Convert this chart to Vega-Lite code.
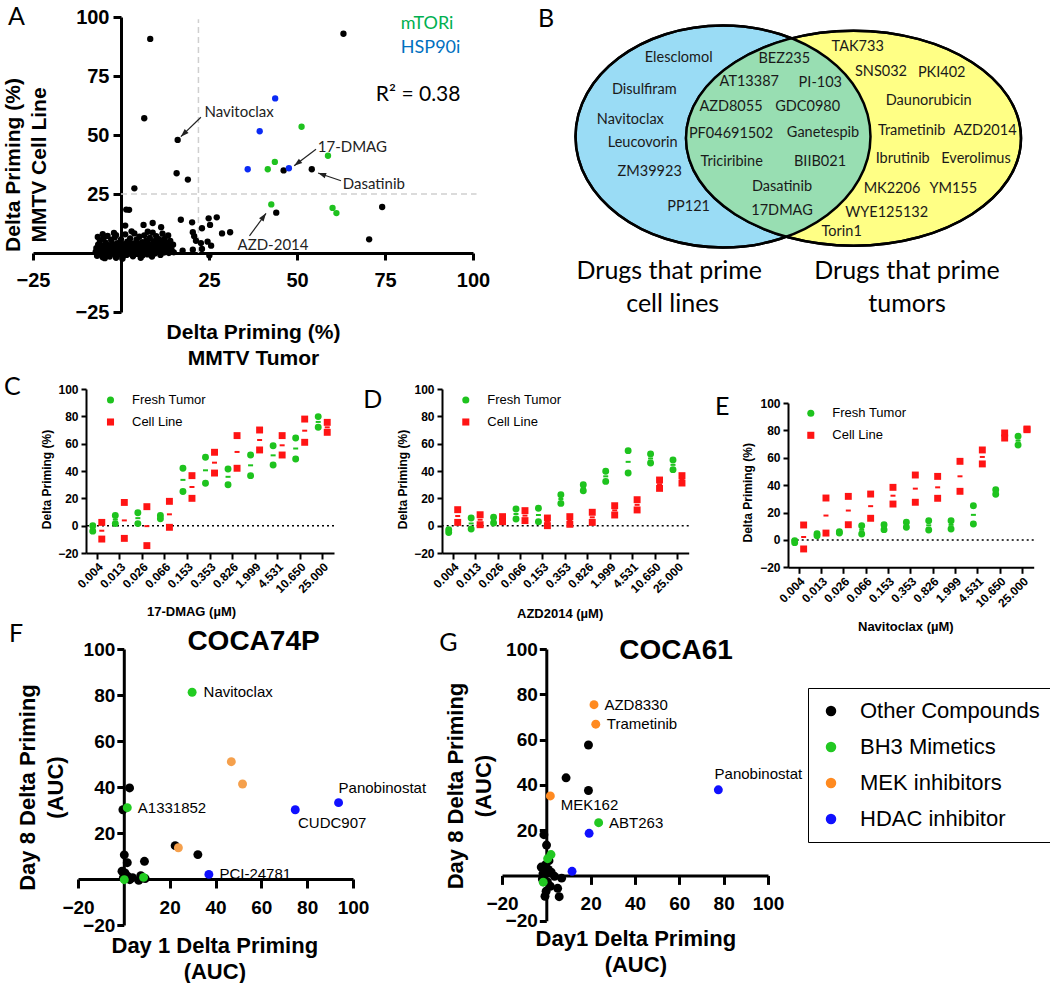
{
"$schema": "https://vega.github.io/schema/vega-lite/v6.json",
"background": "white",
"padding": {"left": 2, "top": 5, "right": 0, "bottom": 0},
"datasets": {
"dA": [
{"x":8.3,"y":90.7,"g":"o"},{"x":63.2,"y":92.9,"g":"o"},{"x":6.6,"y":57.1,"g":"o"},{"x":16.1,"y":47.9,"g":"o"},{"x":15.8,"y":33.8,"g":"o"},{"x":19.0,"y":31.1,"g":"o"},{"x":3.8,"y":27.4,"g":"o"},{"x":46.2,"y":35.0,"g":"o"},{"x":54.2,"y":35.5,"g":"o"},{"x":44.1,"y":17.1,"g":"o"},{"x":74.2,"y":19.5,"g":"o"},{"x":70.5,"y":5.8,"g":"o"},{"x":1.5,"y":18.4,"g":"o"},{"x":2.3,"y":18.3,"g":"o"},{"x":1.2,"y":11.6,"g":"o"},{"x":6.4,"y":11.9,"g":"o"},{"x":9,"y":12.7,"g":"o"},{"x":11.4,"y":10.9,"g":"o"},{"x":7.6,"y":9,"g":"o"},{"x":-5.2,"y":8,"g":"o"},{"x":-1.4,"y":7.6,"g":"o"},{"x":17,"y":14.1,"g":"o"},{"x":20.2,"y":13,"g":"o"},{"x":23,"y":10.5,"g":"o"},{"x":24.9,"y":14.7,"g":"o"},{"x":27.2,"y":15.1,"g":"o"},{"x":25.3,"y":11.9,"g":"o"},{"x":28.7,"y":8.3,"g":"o"},{"x":31,"y":8.8,"g":"o"},{"x":20.4,"y":8.8,"g":"o"},{"x":20.8,"y":7.1,"g":"o"},{"x":21.3,"y":5.2,"g":"o"},{"x":22.7,"y":4.2,"g":"o"},{"x":24.6,"y":4.8,"g":"o"},{"x":25.6,"y":3.1,"g":"o"},{"x":23,"y":1.7,"g":"o"},{"x":17.5,"y":1,"g":"o"},{"x":20.4,"y":1.4,"g":"o"},{"x":15,"y":0.3,"g":"o"},{"x":25.1,"y":-1.1,"g":"o"},
{"x":-7.2,"y":0.5,"g":"o"},{"x":-7,"y":2.1,"g":"o"},{"x":-6.8,"y":-1.2,"g":"o"},{"x":-6.5,"y":3.5,"g":"o"},{"x":-6.3,"y":0.8,"g":"o"},{"x":-6,"y":5.2,"g":"o"},{"x":-5.8,"y":-0.5,"g":"o"},{"x":-5.6,"y":1.9,"g":"o"},{"x":-5.4,"y":3,"g":"o"},{"x":-5.2,"y":-1.8,"g":"o"},{"x":-5,"y":6.1,"g":"o"},{"x":-4.8,"y":0.2,"g":"o"},{"x":-4.6,"y":2.6,"g":"o"},{"x":-4.4,"y":4.4,"g":"o"},{"x":-4.2,"y":-0.9,"g":"o"},{"x":-4,"y":1.4,"g":"o"},{"x":-3.8,"y":7.2,"g":"o"},{"x":-3.6,"y":3.3,"g":"o"},{"x":-3.4,"y":0.1,"g":"o"},{"x":-3.2,"y":-1.5,"g":"o"},{"x":-3,"y":2.2,"g":"o"},{"x":-2.8,"y":5.5,"g":"o"},{"x":-2.6,"y":0.9,"g":"o"},{"x":-2.4,"y":3.9,"g":"o"},{"x":-2.2,"y":-0.3,"g":"o"},{"x":-2,"y":1.6,"g":"o"},{"x":-1.8,"y":6.6,"g":"o"},{"x":-1.6,"y":2.8,"g":"o"},{"x":-1.4,"y":-1.1,"g":"o"},{"x":-1.2,"y":0.6,"g":"o"},{"x":-1,"y":4.2,"g":"o"},{"x":-0.8,"y":1.9,"g":"o"},{"x":-0.6,"y":-0.6,"g":"o"},{"x":-0.4,"y":3.1,"g":"o"},{"x":-0.2,"y":0.3,"g":"o"},{"x":0,"y":5.8,"g":"o"},{"x":0.2,"y":2.4,"g":"o"},{"x":0.4,"y":-1.9,"g":"o"},{"x":0.6,"y":1.1,"g":"o"},{"x":0.8,"y":3.7,"g":"o"},{"x":1,"y":0.2,"g":"o"},{"x":1.2,"y":7.9,"g":"o"},{"x":1.4,"y":2,"g":"o"},{"x":1.6,"y":-0.8,"g":"o"},{"x":1.8,"y":4.8,"g":"o"},{"x":2,"y":1.3,"g":"o"},{"x":2.2,"y":3,"g":"o"},{"x":2.4,"y":-0.2,"g":"o"},{"x":2.6,"y":6.2,"g":"o"},{"x":2.8,"y":1.7,"g":"o"},{"x":3,"y":0.4,"g":"o"},{"x":3.2,"y":4.1,"g":"o"},{"x":3.4,"y":-1.4,"g":"o"},{"x":3.6,"y":2.5,"g":"o"},{"x":3.8,"y":8.3,"g":"o"},{"x":4,"y":0.9,"g":"o"},{"x":4.2,"y":3.4,"g":"o"},{"x":4.4,"y":5.6,"g":"o"},{"x":4.6,"y":-0.4,"g":"o"},{"x":4.8,"y":2.2,"g":"o"},{"x":5,"y":1,"g":"o"},{"x":5.2,"y":6.9,"g":"o"},{"x":5.4,"y":3.8,"g":"o"},{"x":5.6,"y":0.1,"g":"o"},{"x":5.8,"y":2.7,"g":"o"},{"x":6,"y":4.6,"g":"o"},{"x":6.2,"y":-1,"g":"o"},{"x":6.4,"y":1.5,"g":"o"},{"x":6.6,"y":7.5,"g":"o"},{"x":6.8,"y":3.2,"g":"o"},{"x":7,"y":0.6,"g":"o"},{"x":7.2,"y":5.3,"g":"o"},{"x":7.4,"y":2,"g":"o"},{"x":7.6,"y":-0.6,"g":"o"},{"x":7.8,"y":4,"g":"o"},{"x":8,"y":1.2,"g":"o"},{"x":8.2,"y":6.4,"g":"o"},{"x":8.4,"y":2.9,"g":"o"},{"x":8.6,"y":0.3,"g":"o"},{"x":8.8,"y":3.6,"g":"o"},{"x":9,"y":8.6,"g":"o"},{"x":9.2,"y":1.8,"g":"o"},{"x":9.4,"y":5,"g":"o"},{"x":9.6,"y":-0.2,"g":"o"},{"x":9.8,"y":2.4,"g":"o"},{"x":10,"y":7.1,"g":"o"},{"x":10.2,"y":1,"g":"o"},{"x":10.4,"y":3.9,"g":"o"},{"x":10.6,"y":0.5,"g":"o"},{"x":10.8,"y":5.9,"g":"o"},{"x":11,"y":2.6,"g":"o"},{"x":11.2,"y":-0.8,"g":"o"},{"x":11.4,"y":4.5,"g":"o"},{"x":11.6,"y":1.5,"g":"o"},{"x":11.8,"y":8.2,"g":"o"},{"x":12,"y":3.2,"g":"o"},{"x":12.2,"y":0.2,"g":"o"},{"x":12.4,"y":6,"g":"o"},{"x":12.6,"y":2.1,"g":"o"},{"x":12.8,"y":0.8,"g":"o"},{"x":13,"y":4.3,"g":"o"},{"x":13.2,"y":1.6,"g":"o"},{"x":13.4,"y":7.4,"g":"o"},{"x":13.6,"y":0,"g":"o"},{"x":13.8,"y":2.9,"g":"o"},{"x":14,"y":5.1,"g":"o"},{"x":14.4,"y":1.2,"g":"o"},{"x":14.8,"y":3.5,"g":"o"},{"x":-6.6,"y":6.8,"g":"o"},{"x":-2,"y":8.5,"g":"o"},{"x":3,"y":9.2,"g":"o"},{"x":-4.6,"y":-2.2,"g":"o"},{"x":0.4,"y":-2.4,"g":"o"},{"x":5.6,"y":-2,"g":"o"},{"x":-1.4,"y":-2,"g":"o"},{"x":8.8,"y":-1.5,"g":"o"},
{"x":51.3,"y":53.5,"g":"m"},{"x":58.8,"y":41.2,"g":"m"},{"x":43.7,"y":38.6,"g":"m"},{"x":41.7,"y":35.5,"g":"m"},{"x":42.7,"y":20.6,"g":"m"},{"x":60.1,"y":19.1,"g":"m"},{"x":61.2,"y":16.9,"g":"m"},
{"x":43.8,"y":65.5,"g":"h"},{"x":39.4,"y":51.6,"g":"h"},{"x":36.0,"y":35.5,"g":"h"},{"x":47.7,"y":35.9,"g":"h"}
],
"arrows": [
{"t":"Navitoclax","x":17,"y":49.3,"x2":22.7,"y2":57.5},
{"t":"17-DMAG","x":49.2,"y":37,"x2":55.4,"y2":44},
{"t":"Dasatinib","x":56,"y":33.9,"x2":62.5,"y2":30.6},
{"t":"AZD-2014","x":41.2,"y":16.8,"x2":36.5,"y2":7.3}
],
"annA": [
{"x":23.7,"y":59.9,"t":"Navitoclax"},{"x":55.9,"y":45,"t":"17-DMAG"},{"x":63,"y":29.2,"t":"Dasatinib"},{"x":33.1,"y":3.4,"t":"AZD-2014"}
],
"bT": [
{"x":677.7,"y":59.3,"t":"Elesclomol"},{"x":643.3,"y":91,"t":"Disulfiram"},{"x":629.3,"y":120.7,"t":"Navitoclax"},{"x":641.7,"y":144,"t":"Leucovorin"},{"x":648.7,"y":173.3,"t":"ZM39923"},{"x":687.7,"y":208.3,"t":"PP121"},
{"x":783.3,"y":60,"t":"BEZ235"},{"x":748.3,"y":82.7,"t":"AT13387"},{"x":819.3,"y":84.3,"t":"PI-103"},{"x":730,"y":108.3,"t":"AZD8055"},{"x":806.7,"y":108.3,"t":"GDC0980"},{"x":730,"y":135,"t":"PF04691502"},{"x":822,"y":134.3,"t":"Ganetespib"},{"x":730.7,"y":162.7,"t":"Triciribine"},{"x":819,"y":163.3,"t":"BIIB021"},{"x":781,"y":188.3,"t":"Dasatinib"},{"x":781,"y":212.3,"t":"17DMAG"},
{"x":856.7,"y":48.3,"t":"TAK733"},{"x":880,"y":73.3,"t":"SNS032"},{"x":940.7,"y":74,"t":"PKI402"},{"x":927.7,"y":101.7,"t":"Daunorubicin"},{"x":910.7,"y":131.7,"t":"Trametinib"},{"x":984,"y":131.7,"t":"AZD2014"},{"x":901.7,"y":160,"t":"Ibrutinib"},{"x":975,"y":160,"t":"Everolimus"},{"x":891,"y":190,"t":"MK2206"},{"x":952.3,"y":190,"t":"YM155"},{"x":885.7,"y":214,"t":"WYE125132"},{"x":840.7,"y":233.3,"t":"Torin1"}
],
"bC": [
{"x":668.3,"y":271.7,"t":"Drugs that prime"},{"x":671.7,"y":305,"t":"cell lines"},{"x":906,"y":271.7,"t":"Drugs that prime"},{"x":906,"y":305,"t":"tumors"}
],
"dC": [
{"c":"0.004","s":"Fresh Tumor","v":0},{"c":"0.004","s":"Fresh Tumor","v":-4},{"c":"0.004","s":"Cell Line","v":2.4},{"c":"0.004","s":"Cell Line","v":-9.8},
{"c":"0.013","s":"Fresh Tumor","v":7.5},{"c":"0.013","s":"Fresh Tumor","v":1.5},{"c":"0.013","s":"Cell Line","v":17},{"c":"0.013","s":"Cell Line","v":-9.3},
{"c":"0.026","s":"Fresh Tumor","v":9.5},{"c":"0.026","s":"Fresh Tumor","v":1.5},{"c":"0.026","s":"Cell Line","v":13.9},{"c":"0.026","s":"Cell Line","v":-14.6},
{"c":"0.066","s":"Fresh Tumor","v":7.5},{"c":"0.066","s":"Fresh Tumor","v":5},{"c":"0.066","s":"Cell Line","v":17.8},{"c":"0.066","s":"Cell Line","v":-1.2},
{"c":"0.153","s":"Fresh Tumor","v":42},{"c":"0.153","s":"Fresh Tumor","v":25},{"c":"0.153","s":"Cell Line","v":36.6},{"c":"0.153","s":"Cell Line","v":20},
{"c":"0.353","s":"Fresh Tumor","v":50},{"c":"0.353","s":"Fresh Tumor","v":31},{"c":"0.353","s":"Cell Line","v":53.7},{"c":"0.353","s":"Cell Line","v":38.5},
{"c":"0.826","s":"Fresh Tumor","v":41.5},{"c":"0.826","s":"Fresh Tumor","v":30},{"c":"0.826","s":"Cell Line","v":65.9},{"c":"0.826","s":"Cell Line","v":42},
{"c":"1.999","s":"Fresh Tumor","v":51.7},{"c":"1.999","s":"Fresh Tumor","v":36.6},{"c":"1.999","s":"Cell Line","v":70},{"c":"1.999","s":"Cell Line","v":55.4},
{"c":"4.531","s":"Fresh Tumor","v":58.5},{"c":"4.531","s":"Fresh Tumor","v":44.4},{"c":"4.531","s":"Cell Line","v":65.9},{"c":"4.531","s":"Cell Line","v":51.7},
{"c":"10.650","s":"Fresh Tumor","v":64.1},{"c":"10.650","s":"Fresh Tumor","v":48.8},{"c":"10.650","s":"Cell Line","v":78},{"c":"10.650","s":"Cell Line","v":61},
{"c":"25.000","s":"Fresh Tumor","v":79.8},{"c":"25.000","s":"Fresh Tumor","v":72},{"c":"25.000","s":"Cell Line","v":75.6},{"c":"25.000","s":"Cell Line","v":68.3}
],
"dD": [
{"c":"0.004","s":"Fresh Tumor","v":-3},{"c":"0.004","s":"Fresh Tumor","v":-5},{"c":"0.004","s":"Cell Line","v":11.7},{"c":"0.004","s":"Cell Line","v":2.4},
{"c":"0.013","s":"Fresh Tumor","v":5.6},{"c":"0.013","s":"Fresh Tumor","v":-2.4},{"c":"0.013","s":"Cell Line","v":8},{"c":"0.013","s":"Cell Line","v":0.7},
{"c":"0.026","s":"Fresh Tumor","v":6.1},{"c":"0.026","s":"Fresh Tumor","v":2},{"c":"0.026","s":"Cell Line","v":6.6},{"c":"0.026","s":"Cell Line","v":2.9},
{"c":"0.066","s":"Fresh Tumor","v":12.2},{"c":"0.066","s":"Fresh Tumor","v":4.9},{"c":"0.066","s":"Cell Line","v":11},{"c":"0.066","s":"Cell Line","v":3.7},
{"c":"0.153","s":"Fresh Tumor","v":12.7},{"c":"0.153","s":"Fresh Tumor","v":2.9},{"c":"0.153","s":"Cell Line","v":5.6},{"c":"0.153","s":"Cell Line","v":0},
{"c":"0.353","s":"Fresh Tumor","v":22.7},{"c":"0.353","s":"Fresh Tumor","v":16.3},{"c":"0.353","s":"Cell Line","v":6.6},{"c":"0.353","s":"Cell Line","v":1},
{"c":"0.826","s":"Fresh Tumor","v":30},{"c":"0.826","s":"Fresh Tumor","v":25.6},{"c":"0.826","s":"Cell Line","v":9.8},{"c":"0.826","s":"Cell Line","v":2.4},
{"c":"1.999","s":"Fresh Tumor","v":39.8},{"c":"1.999","s":"Fresh Tumor","v":32.4},{"c":"1.999","s":"Cell Line","v":14.6},{"c":"1.999","s":"Cell Line","v":7.8},
{"c":"4.531","s":"Fresh Tumor","v":54.9},{"c":"4.531","s":"Fresh Tumor","v":38.5},{"c":"4.531","s":"Cell Line","v":19},{"c":"4.531","s":"Cell Line","v":11.5},
{"c":"10.650","s":"Fresh Tumor","v":52.4},{"c":"10.650","s":"Fresh Tumor","v":45.9},{"c":"10.650","s":"Cell Line","v":33.4},{"c":"10.650","s":"Cell Line","v":27.3},
{"c":"25.000","s":"Fresh Tumor","v":48},{"c":"25.000","s":"Fresh Tumor","v":41},{"c":"25.000","s":"Cell Line","v":36.6},{"c":"25.000","s":"Cell Line","v":31.2}
],
"dE": [
{"c":"0.004","s":"Fresh Tumor","v":-0.5},{"c":"0.004","s":"Fresh Tumor","v":-2},{"c":"0.004","s":"Cell Line","v":10.9},{"c":"0.004","s":"Cell Line","v":-6.6},
{"c":"0.013","s":"Fresh Tumor","v":4.5},{"c":"0.013","s":"Fresh Tumor","v":3},{"c":"0.013","s":"Cell Line","v":30.6},{"c":"0.013","s":"Cell Line","v":5},
{"c":"0.026","s":"Fresh Tumor","v":6},{"c":"0.026","s":"Fresh Tumor","v":5},{"c":"0.026","s":"Cell Line","v":31.8},{"c":"0.026","s":"Cell Line","v":11.1},
{"c":"0.066","s":"Fresh Tumor","v":10.4},{"c":"0.066","s":"Fresh Tumor","v":4.3},{"c":"0.066","s":"Cell Line","v":33.5},{"c":"0.066","s":"Cell Line","v":15.8},
{"c":"0.153","s":"Fresh Tumor","v":11.1},{"c":"0.153","s":"Fresh Tumor","v":7.5},{"c":"0.153","s":"Cell Line","v":38.4},{"c":"0.153","s":"Cell Line","v":26.2},
{"c":"0.353","s":"Fresh Tumor","v":12.9},{"c":"0.353","s":"Fresh Tumor","v":9.2},{"c":"0.353","s":"Cell Line","v":47.4},{"c":"0.353","s":"Cell Line","v":27.5},
{"c":"0.826","s":"Fresh Tumor","v":14},{"c":"0.826","s":"Fresh Tumor","v":7.3},{"c":"0.826","s":"Cell Line","v":46.4},{"c":"0.826","s":"Cell Line","v":30.4},
{"c":"1.999","s":"Fresh Tumor","v":14},{"c":"1.999","s":"Fresh Tumor","v":8},{"c":"1.999","s":"Cell Line","v":57.4},{"c":"1.999","s":"Cell Line","v":35.5},
{"c":"4.531","s":"Fresh Tumor","v":25},{"c":"4.531","s":"Fresh Tumor","v":11.6},{"c":"4.531","s":"Cell Line","v":65.7},{"c":"4.531","s":"Cell Line","v":55.5},
{"c":"10.650","s":"Fresh Tumor","v":36.7},{"c":"10.650","s":"Fresh Tumor","v":33.3},{"c":"10.650","s":"Cell Line","v":78.1},{"c":"10.650","s":"Cell Line","v":74.4},
{"c":"25.000","s":"Fresh Tumor","v":75.7},{"c":"25.000","s":"Fresh Tumor","v":69.3},{"c":"25.000","s":"Cell Line","v":81},{"c":"25.000","s":"Cell Line","v":80.5}
],
"dF": [
{"x":2.5,"y":39.6,"g":"Other Compounds"},{"x":-0.4,"y":30.1,"g":"Other Compounds"},{"x":22.4,"y":14.5,"g":"Other Compounds"},{"x":32.3,"y":10.6,"g":"Other Compounds"},{"x":0.2,"y":10.5,"g":"Other Compounds"},{"x":1.5,"y":7.1,"g":"Other Compounds"},{"x":9,"y":7.7,"g":"Other Compounds"},{"x":-0.8,"y":3.4,"g":"Other Compounds"},{"x":0.5,"y":2.6,"g":"Other Compounds"},{"x":1.6,"y":1.2,"g":"Other Compounds"},{"x":3.8,"y":0.6,"g":"Other Compounds"},{"x":6.5,"y":-0.6,"g":"Other Compounds"},{"x":9.3,"y":0.2,"g":"Other Compounds"},{"x":-0.2,"y":0.6,"g":"Other Compounds"},{"x":2.6,"y":-0.3,"g":"Other Compounds"},{"x":7.4,"y":1.4,"g":"Other Compounds"},
{"x":29.8,"y":81.2,"g":"BH3 Mimetics"},{"x":1.5,"y":31,"g":"BH3 Mimetics"},{"x":0.2,"y":-0.3,"g":"BH3 Mimetics"},{"x":8.6,"y":0.7,"g":"BH3 Mimetics"},
{"x":46.9,"y":51,"g":"MEK inhibitors"},{"x":51.8,"y":41.3,"g":"MEK inhibitors"},{"x":23.8,"y":13.6,"g":"MEK inhibitors"},
{"x":74.8,"y":30.1,"g":"HDAC inhibitor"},{"x":93.7,"y":33.2,"g":"HDAC inhibitor"},{"x":37.1,"y":2,"g":"HDAC inhibitor"}
],
"lF": [
{"x":34.8,"y":81.2,"t":"Navitoclax"},{"x":6.1,"y":31,"t":"A1331852"},{"x":93.7,"y":39.6,"t":"Panobinostat"},{"x":76,"y":24.2,"t":"CUDC907"},{"x":41.7,"y":2,"t":"PCI-24781"}
],
"dG": [
{"x":19,"y":57.6,"g":"Other Compounds"},{"x":8.9,"y":43.1,"g":"Other Compounds"},{"x":19,"y":37.5,"g":"Other Compounds"},{"x":-1.1,"y":18,"g":"Other Compounds"},{"x":0.1,"y":13.4,"g":"Other Compounds"},{"x":6.9,"y":-1.2,"g":"Other Compounds"},{"x":5.1,"y":-5.7,"g":"Other Compounds"},{"x":5.8,"y":-9.4,"g":"Other Compounds"},{"x":-2.3,"y":3.7,"g":"Other Compounds"},{"x":-0.3,"y":4.7,"g":"Other Compounds"},{"x":2.2,"y":1.4,"g":"Other Compounds"},{"x":3.7,"y":-0.4,"g":"Other Compounds"},{"x":-1.8,"y":-1.6,"g":"Other Compounds"},{"x":0.5,"y":-2.9,"g":"Other Compounds"},{"x":-0.1,"y":-7,"g":"Other Compounds"},{"x":-0.6,"y":-9.2,"g":"Other Compounds"},{"x":1.2,"y":6.5,"g":"Other Compounds"},{"x":-1.5,"y":0.8,"g":"Other Compounds"},{"x":1.8,"y":-4.8,"g":"Other Compounds"},{"x":0.9,"y":2.6,"g":"Other Compounds"},
{"x":23.6,"y":23.3,"g":"BH3 Mimetics"},{"x":2.1,"y":9.2,"g":"BH3 Mimetics"},{"x":0.6,"y":7.4,"g":"BH3 Mimetics"},{"x":-1.4,"y":-3,"g":"BH3 Mimetics"},
{"x":21.5,"y":75.4,"g":"MEK inhibitors"},{"x":22.3,"y":66.8,"g":"MEK inhibitors"},{"x":1.8,"y":35.1,"g":"MEK inhibitors"},
{"x":77.6,"y":37.8,"g":"HDAC inhibitor"},{"x":19.3,"y":18.6,"g":"HDAC inhibitor"},{"x":11.6,"y":1.8,"g":"HDAC inhibitor"}
],
"lG": [
{"x":26.2,"y":75.4,"t":"AZD8330"},{"x":27.3,"y":66.8,"t":"Trametinib"},{"x":6.5,"y":30.9,"t":"MEK162"},{"x":28.3,"y":23.3,"t":"ABT263"},{"x":75.9,"y":44.9,"t":"Panobinostat"}
]
},
"vconcat": [
{
"hconcat": [
{
"width": 440, "height": 295,
"title": {"text": "A", "anchor": "start", "frame": "group", "dx": -25, "dy": 43, "offset": 0, "baseline": "alphabetic", "font": "Lato", "fontSize": 25, "fontWeight": "normal"},
"encoding": {
"x": {"field": "x", "type": "quantitative", "scale": {"domain": [-25, 100], "nice": false, "zero": false},
"axis": {"title": ["Delta  Priming  (%)", "MMTV  Tumor"], "values": [-25, 25, 50, 75, 100], "offset": -59, "domainWidth": 3, "tickWidth": 3, "tickSize": 7, "labelFontSize": 20, "labelPadding": 10, "labelFlush": false, "titleFontSize": 21, "titleLineHeight": 26, "titleBaseline": "middle", "titleAlign": "center", "titleX": 220, "titleY": 79}},
"y": {"field": "y", "type": "quantitative", "scale": {"domain": [-25, 100], "nice": false, "zero": false},
"axis": {"title": ["Delta  Priming  (%)", "MMTV  Cell  Line"], "values": [-25, 25, 50, 75, 100], "offset": -88, "domainWidth": 3, "tickWidth": 3, "tickSize": 8, "labelFontSize": 20, "labelPadding": 4, "labelFlush": false, "titleFontSize": 21, "titleLineHeight": 26, "titleAngle": 270, "titleBaseline": "middle", "titleAlign": "center", "titleX": -108, "titleY": 147.5}}
},
"layer": [
{"data": {"values": [{"x": 22, "y": 0, "x2": 22, "y2": 99}, {"x": 0, "y": 25, "x2": 101, "y2": 25}]},
 "mark": {"type": "rule", "color": "#cfcfcf", "strokeDash": [6, 4], "strokeWidth": 1.5},
 "encoding": {"x2": {"field": "x2"}, "y2": {"field": "y2"}}},
{"data": {"name": "dA"}, "mark": {"type": "circle", "size": 40, "opacity": 1},
 "encoding": {"color": {"field": "g", "type": "nominal", "scale": {"domain": ["o", "m", "h"], "range": ["#000000", "#1fc21f", "#0a2af5"]}, "legend": null}}},
{"data": {"name": "arrows"}, "mark": {"type": "rule", "color": "#222222", "strokeWidth": 1.2},
 "encoding": {"x2": {"field": "x2"}, "y2": {"field": "y2"}}},
{"data": {"name": "arrows"}, "transform": [{"filter": "datum.t === 'Navitoclax'"}], "mark": {"type": "point", "shape": "M 0 0 L 0.35 1 L -0.35 1 Z", "size": 256, "angle": 226, "filled": true, "color": "#222222", "opacity": 1}, "encoding": {}},
{"data": {"name": "arrows"}, "transform": [{"filter": "datum.t === '17-DMAG'"}], "mark": {"type": "point", "shape": "M 0 0 L 0.35 1 L -0.35 1 Z", "size": 256, "angle": 233, "filled": true, "color": "#222222", "opacity": 1}, "encoding": {}},
{"data": {"name": "arrows"}, "transform": [{"filter": "datum.t === 'Dasatinib'"}], "mark": {"type": "point", "shape": "M 0 0 L 0.35 1 L -0.35 1 Z", "size": 256, "angle": 289, "filled": true, "color": "#222222", "opacity": 1}, "encoding": {}},
{"data": {"name": "arrows"}, "transform": [{"filter": "datum.t === 'AZD-2014'"}], "mark": {"type": "point", "shape": "M 0 0 L 0.35 1 L -0.35 1 Z", "size": 256, "angle": 36, "filled": true, "color": "#222222", "opacity": 1}, "encoding": {}},
{"data": {"name": "annA"}, "mark": {"type": "text", "align": "left", "baseline": "middle", "font": "Lato", "fontSize": 15, "color": "#222222"}, "encoding": {"text": {"field": "t"}}},
{"data": {"values": [{"x": 79.5, "y": 97, "t": "mTORi"}]}, "mark": {"type": "text", "align": "left", "baseline": "middle", "font": "Lato", "fontSize": 18, "color": "#00b050"}, "encoding": {"text": {"field": "t"}}},
{"data": {"values": [{"x": 79.5, "y": 86.9, "t": "HSP90i"}]}, "mark": {"type": "text", "align": "left", "baseline": "middle", "font": "Lato", "fontSize": 18, "color": "#0070c0"}, "encoding": {"text": {"field": "t"}}},
{"data": {"values": [{"x": 72.4, "y": 67, "t": "R² = 0.38"}]}, "mark": {"type": "text", "align": "left", "baseline": "middle", "font": "Lato", "fontSize": 21, "color": "#000000"}, "encoding": {"text": {"field": "t"}}}
]
},
{"width": 48, "height": 1, "data": {"values": [{}]}, "mark": {"type": "point", "opacity": 0, "size": 1}, "encoding": {}},
{
"width": 530, "height": 312,
"title": {"text": "B", "anchor": "start", "frame": "group", "dx": 17, "dy": 35, "offset": 0, "baseline": "alphabetic", "font": "Lato", "fontSize": 25, "fontWeight": "normal"},
"encoding": {
"x": {"field": "x", "type": "quantitative", "scale": {"domain": [520, 1050], "nice": false, "zero": false}, "axis": null},
"y": {"field": "y", "type": "quantitative", "scale": {"domain": [18, 330], "nice": false, "zero": false, "reverse": true}, "axis": null}
},
"layer": [
{"data": {"values": [{"x": 722, "y": 137.5}]}, "mark": {"type": "point", "shape": "M -147.5 0 A 147.5 111 0 1 0 147.5 0 A 147.5 111 0 1 0 -147.5 0 Z", "size": 4, "filled": true, "fill": "#9adcf5", "fillOpacity": 1, "stroke": "#000000", "strokeWidth": 2.5, "opacity": 1}, "encoding": {}},
{"data": {"values": [{"x": 852.5, "y": 139.2}]}, "mark": {"type": "point", "shape": "M -167.5 0 A 167.5 107.5 0 1 0 167.5 0 A 167.5 107.5 0 1 0 -167.5 0 Z", "size": 4, "filled": true, "fill": "#ffff85", "fillOpacity": 1, "stroke": "#000000", "strokeWidth": 2.5, "opacity": 1}, "encoding": {}},
{"data": {"values": [{"x": 722, "y": 137.5}]}, "mark": {"type": "point", "shape": "M 68.6 -98.2 A 147.5 111 0 0 1 63.5 100.2 A 167.5 107.5 0 0 1 68.6 -98.2 Z", "size": 4, "filled": true, "fill": "#98deb2", "fillOpacity": 1, "strokeWidth": 0, "opacity": 1}, "encoding": {}},
{"data": {"values": [{"x": 722, "y": 137.5}]}, "mark": {"type": "point", "shape": "M -147.5 0 A 147.5 111 0 1 0 147.5 0 A 147.5 111 0 1 0 -147.5 0 Z", "size": 4, "filled": false, "fill": null, "stroke": "#000000", "strokeWidth": 2.5, "opacity": 1}, "encoding": {}},
{"data": {"values": [{"x": 852.5, "y": 139.2}]}, "mark": {"type": "point", "shape": "M -167.5 0 A 167.5 107.5 0 1 0 167.5 0 A 167.5 107.5 0 1 0 -167.5 0 Z", "size": 4, "filled": false, "fill": null, "stroke": "#000000", "strokeWidth": 2.5, "opacity": 1}, "encoding": {}},
{"data": {"name": "bT"}, "mark": {"type": "text", "align": "center", "baseline": "middle", "font": "Lato", "fontSize": 14.5, "color": "#1a1a1a"}, "encoding": {"text": {"field": "t"}}},
{"data": {"name": "bC"}, "mark": {"type": "text", "align": "center", "baseline": "middle", "font": "Lato", "fontSize": 25, "color": "#000000"}, "encoding": {"text": {"field": "t"}}}
]
}
],
"spacing": 0, "bounds": "flush",
"resolve": {"scale": {"color": "independent", "shape": "independent"}, "legend": {"color": "independent", "shape": "independent"}}
},
{"width": 1, "height": 372, "data": {"values": [{}]}, "mark": {"type": "point", "opacity": 0, "size": 1}, "encoding": {}},
{
"hconcat": [
{"width": 53, "height": 1, "data": {"values": [{}]}, "mark": {"type": "point", "opacity": 0, "size": 1}, "encoding": {}},
{
"width": 248, "height": 164,
"title": {"text": "C", "anchor": "start", "frame": "group", "dx": -82, "dy": 37, "offset": 0, "baseline": "alphabetic", "font": "Lato", "fontSize": 25, "fontWeight": "normal"},
"encoding": {"y": {"field": "v", "type": "quantitative", "scale": {"domain": [-20, 100], "nice": false, "zero": false}, "axis": {"title": "Delta  Priming  (%)", "values": [-20, 0, 20, 40, 60, 80, 100], "domainWidth": 2, "tickWidth": 2, "tickSize": 5, "labelFontSize": 12, "labelPadding": 3, "labelFlush": false, "titleFontSize": 12, "titleAngle": 270, "titleBaseline": "middle", "titleAlign": "center", "titleX": -39.3, "titleY": 90}}},
"layer": [
{"data": {"values": [{"v": 0}]}, "mark": {"type": "rule", "color": "#000000", "strokeDash": [2, 3], "strokeWidth": 1.5}, "encoding": {}},
{"data": {"name": "dC"}, "mark": {"type": "point", "filled": true, "opacity": 1, "size": 48},
 "encoding": {
  "x": {"field": "c", "type": "ordinal", "sort": ["0.004","0.013","0.026","0.066","0.153","0.353","0.826","1.999","4.531","10.650","25.000"], "scale": {"type": "band", "paddingInner": 0, "paddingOuter": 0}, "axis": {"title": "17-DMAG (µM)", "labelAngle": -45, "labelFontSize": 12, "labelOverlap": false, "domainWidth": 2, "tickWidth": 2, "tickSize": 6, "labelPadding": 2, "titleFontSize": 13, "titleBaseline": "middle", "titleAlign": "center", "titleX": 105, "titleY": 58.4}},
  "xOffset": {"field": "s", "type": "nominal", "scale": {"domain": ["Fresh Tumor", "Cell Line"], "paddingInner": 0.5, "paddingOuter": 0.5}},
  "color": {"field": "s", "type": "nominal", "scale": {"domain": ["Fresh Tumor", "Cell Line"], "range": ["#1ec31e", "#ff1414"]}, "legend": {"orient": "none", "legendX": 18, "legendY": 4.5, "title": null, "labelFont": "Liberation Sans", "labelFontSize": 13, "labelFontWeight": "normal", "symbolSize": 50, "labelOffset": 15, "rowPadding": 8, "padding": 0, "symbolStrokeWidth": 0}},
  "shape": {"field": "s", "type": "nominal", "scale": {"domain": ["Fresh Tumor", "Cell Line"], "range": ["circle", "square"]}, "legend": {"orient": "none", "legendX": 18, "legendY": 4.5, "title": null, "labelFont": "Liberation Sans", "labelFontSize": 13, "labelFontWeight": "normal", "symbolSize": 50, "labelOffset": 15, "rowPadding": 8, "padding": 0, "symbolStrokeWidth": 0}}
 }},
{"data": {"name": "dC"}, "mark": {"type": "tick", "thickness": 2, "size": 5, "color": "#1ec31e", "opacity": 1}, "transform": [{"filter": "datum.s === 'Fresh Tumor'"}],
 "encoding": {
  "x": {"field": "c", "type": "ordinal", "sort": ["0.004","0.013","0.026","0.066","0.153","0.353","0.826","1.999","4.531","10.650","25.000"], "scale": {"type": "band", "paddingInner": 0, "paddingOuter": 0}, "axis": {"title": "17-DMAG (µM)", "labelAngle": -45, "labelFontSize": 12, "labelOverlap": false, "domainWidth": 2, "tickWidth": 2, "tickSize": 6, "labelPadding": 2, "titleFontSize": 13, "titleBaseline": "middle", "titleAlign": "center", "titleX": 105, "titleY": 58.4}},
  "xOffset": {"field": "s", "type": "nominal", "scale": {"domain": ["Fresh Tumor", "Cell Line"], "paddingInner": 0.5, "paddingOuter": 0.5}},
  "y": {"field": "v", "aggregate": "mean", "type": "quantitative", "title": "Delta  Priming  (%)"}
 }},
{"data": {"name": "dC"}, "mark": {"type": "tick", "thickness": 2, "size": 5, "color": "#ff1414", "opacity": 1}, "transform": [{"filter": "datum.s === 'Cell Line'"}],
 "encoding": {
  "x": {"field": "c", "type": "ordinal", "sort": ["0.004","0.013","0.026","0.066","0.153","0.353","0.826","1.999","4.531","10.650","25.000"], "scale": {"type": "band", "paddingInner": 0, "paddingOuter": 0}, "axis": {"title": "17-DMAG (µM)", "labelAngle": -45, "labelFontSize": 12, "labelOverlap": false, "domainWidth": 2, "tickWidth": 2, "tickSize": 6, "labelPadding": 2, "titleFontSize": 13, "titleBaseline": "middle", "titleAlign": "center", "titleX": 105, "titleY": 58.4}},
  "xOffset": {"field": "s", "type": "nominal", "scale": {"domain": ["Fresh Tumor", "Cell Line"], "paddingInner": 0.5, "paddingOuter": 0.5}},
  "y": {"field": "v", "aggregate": "mean", "type": "quantitative", "title": "Delta  Priming  (%)"}
 }}
]
},
{"width": 107.7, "height": 1, "data": {"values": [{}]}, "mark": {"type": "point", "opacity": 0, "size": 1}, "encoding": {}},
{
"width": 246.7, "height": 164,
"title": {"text": "D", "anchor": "start", "frame": "group", "dx": -78.7, "dy": 50, "offset": 0, "baseline": "alphabetic", "font": "Lato", "fontSize": 25, "fontWeight": "normal"},
"encoding": {"y": {"field": "v", "type": "quantitative", "scale": {"domain": [-20, 100], "nice": false, "zero": false}, "axis": {"title": "Delta  Priming  (%)", "values": [-20, 0, 20, 40, 60, 80, 100], "domainWidth": 2, "tickWidth": 2, "tickSize": 5, "labelFontSize": 12, "labelPadding": 3, "labelFlush": false, "titleFontSize": 12, "titleAngle": 270, "titleBaseline": "middle", "titleAlign": "center", "titleX": -40, "titleY": 90}}},
"layer": [
{"data": {"values": [{"v": 0}]}, "mark": {"type": "rule", "color": "#000000", "strokeDash": [2, 3], "strokeWidth": 1.5}, "encoding": {}},
{"data": {"name": "dD"}, "mark": {"type": "point", "filled": true, "opacity": 1, "size": 48},
 "encoding": {
  "x": {"field": "c", "type": "ordinal", "sort": ["0.004","0.013","0.026","0.066","0.153","0.353","0.826","1.999","4.531","10.650","25.000"], "scale": {"type": "band", "paddingInner": 0, "paddingOuter": 0}, "axis": {"title": "AZD2014 (µM)", "labelAngle": -45, "labelFontSize": 12, "labelOverlap": false, "domainWidth": 2, "tickWidth": 2, "tickSize": 6, "labelPadding": 2, "titleFontSize": 13, "titleBaseline": "middle", "titleAlign": "center", "titleX": 117.6, "titleY": 60}},
  "xOffset": {"field": "s", "type": "nominal", "scale": {"domain": ["Fresh Tumor", "Cell Line"], "paddingInner": 0.5, "paddingOuter": 0.5}},
  "color": {"field": "s", "type": "nominal", "scale": {"domain": ["Fresh Tumor", "Cell Line"], "range": ["#1ec31e", "#ff1414"]}, "legend": {"orient": "none", "legendX": 17.3, "legendY": 4.5, "title": null, "labelFont": "Liberation Sans", "labelFontSize": 13, "labelFontWeight": "normal", "symbolSize": 50, "labelOffset": 15, "rowPadding": 8, "padding": 0, "symbolStrokeWidth": 0}},
  "shape": {"field": "s", "type": "nominal", "scale": {"domain": ["Fresh Tumor", "Cell Line"], "range": ["circle", "square"]}, "legend": {"orient": "none", "legendX": 17.3, "legendY": 4.5, "title": null, "labelFont": "Liberation Sans", "labelFontSize": 13, "labelFontWeight": "normal", "symbolSize": 50, "labelOffset": 15, "rowPadding": 8, "padding": 0, "symbolStrokeWidth": 0}}
 }},
{"data": {"name": "dD"}, "mark": {"type": "tick", "thickness": 2, "size": 5, "color": "#1ec31e", "opacity": 1}, "transform": [{"filter": "datum.s === 'Fresh Tumor'"}],
 "encoding": {
  "x": {"field": "c", "type": "ordinal", "sort": ["0.004","0.013","0.026","0.066","0.153","0.353","0.826","1.999","4.531","10.650","25.000"], "scale": {"type": "band", "paddingInner": 0, "paddingOuter": 0}, "axis": {"title": "AZD2014 (µM)", "labelAngle": -45, "labelFontSize": 12, "labelOverlap": false, "domainWidth": 2, "tickWidth": 2, "tickSize": 6, "labelPadding": 2, "titleFontSize": 13, "titleBaseline": "middle", "titleAlign": "center", "titleX": 117.6, "titleY": 60}},
  "xOffset": {"field": "s", "type": "nominal", "scale": {"domain": ["Fresh Tumor", "Cell Line"], "paddingInner": 0.5, "paddingOuter": 0.5}},
  "y": {"field": "v", "aggregate": "mean", "type": "quantitative", "title": "Delta  Priming  (%)"}
 }},
{"data": {"name": "dD"}, "mark": {"type": "tick", "thickness": 2, "size": 5, "color": "#ff1414", "opacity": 1}, "transform": [{"filter": "datum.s === 'Cell Line'"}],
 "encoding": {
  "x": {"field": "c", "type": "ordinal", "sort": ["0.004","0.013","0.026","0.066","0.153","0.353","0.826","1.999","4.531","10.650","25.000"], "scale": {"type": "band", "paddingInner": 0, "paddingOuter": 0}, "axis": {"title": "AZD2014 (µM)", "labelAngle": -45, "labelFontSize": 12, "labelOverlap": false, "domainWidth": 2, "tickWidth": 2, "tickSize": 6, "labelPadding": 2, "titleFontSize": 13, "titleBaseline": "middle", "titleAlign": "center", "titleX": 117.6, "titleY": 60}},
  "xOffset": {"field": "s", "type": "nominal", "scale": {"domain": ["Fresh Tumor", "Cell Line"], "paddingInner": 0.5, "paddingOuter": 0.5}},
  "y": {"field": "v", "aggregate": "mean", "type": "quantitative", "title": "Delta  Priming  (%)"}
 }}
]
},
{"width": 98.7, "height": 1, "data": {"values": [{}]}, "mark": {"type": "point", "opacity": 0, "size": 1}, "encoding": {}},
{
"vconcat": [
{"width": 1, "height": 14, "data": {"values": [{}]}, "mark": {"type": "point", "opacity": 0, "size": 1}, "encoding": {}},
{
"width": 245.7, "height": 164.3,
"title": {"text": "E", "anchor": "start", "frame": "group", "dx": -73, "dy": 43, "offset": 0, "baseline": "alphabetic", "font": "Lato", "fontSize": 25, "fontWeight": "normal"},
"encoding": {"y": {"field": "v", "type": "quantitative", "scale": {"domain": [-20, 100], "nice": false, "zero": false}, "axis": {"title": "Delta  Priming  (%)", "values": [-20, 0, 20, 40, 60, 80, 100], "domainWidth": 2, "tickWidth": 2, "tickSize": 5, "labelFontSize": 12, "labelPadding": 3, "labelFlush": false, "titleFontSize": 12, "titleAngle": 270, "titleBaseline": "middle", "titleAlign": "center", "titleX": -40.3, "titleY": 89.3}}},
"layer": [
{"data": {"values": [{"v": 0}]}, "mark": {"type": "rule", "color": "#000000", "strokeDash": [2, 3], "strokeWidth": 1.5}, "encoding": {}},
{"data": {"name": "dE"}, "mark": {"type": "point", "filled": true, "opacity": 1, "size": 48},
 "encoding": {
  "x": {"field": "c", "type": "ordinal", "sort": ["0.004","0.013","0.026","0.066","0.153","0.353","0.826","1.999","4.531","10.650","25.000"], "scale": {"type": "band", "paddingInner": 0, "paddingOuter": 0}, "axis": {"title": "Navitoclax (µM)", "labelAngle": -45, "labelFontSize": 12, "labelOverlap": false, "domainWidth": 2, "tickWidth": 2, "tickSize": 6, "labelPadding": 2, "titleFontSize": 13, "titleBaseline": "middle", "titleAlign": "center", "titleX": 117.3, "titleY": 59.1}},
  "xOffset": {"field": "s", "type": "nominal", "scale": {"domain": ["Fresh Tumor", "Cell Line"], "paddingInner": 0.5, "paddingOuter": 0.5}},
  "color": {"field": "s", "type": "nominal", "scale": {"domain": ["Fresh Tumor", "Cell Line"], "range": ["#1ec31e", "#ff1414"]}, "legend": {"orient": "none", "legendX": 16.3, "legendY": 3.8, "title": null, "labelFont": "Liberation Sans", "labelFontSize": 13, "labelFontWeight": "normal", "symbolSize": 50, "labelOffset": 15, "rowPadding": 8, "padding": 0, "symbolStrokeWidth": 0}},
  "shape": {"field": "s", "type": "nominal", "scale": {"domain": ["Fresh Tumor", "Cell Line"], "range": ["circle", "square"]}, "legend": {"orient": "none", "legendX": 16.3, "legendY": 3.8, "title": null, "labelFont": "Liberation Sans", "labelFontSize": 13, "labelFontWeight": "normal", "symbolSize": 50, "labelOffset": 15, "rowPadding": 8, "padding": 0, "symbolStrokeWidth": 0}}
 }},
{"data": {"name": "dE"}, "mark": {"type": "tick", "thickness": 2, "size": 5, "color": "#1ec31e", "opacity": 1}, "transform": [{"filter": "datum.s === 'Fresh Tumor'"}],
 "encoding": {
  "x": {"field": "c", "type": "ordinal", "sort": ["0.004","0.013","0.026","0.066","0.153","0.353","0.826","1.999","4.531","10.650","25.000"], "scale": {"type": "band", "paddingInner": 0, "paddingOuter": 0}, "axis": {"title": "Navitoclax (µM)", "labelAngle": -45, "labelFontSize": 12, "labelOverlap": false, "domainWidth": 2, "tickWidth": 2, "tickSize": 6, "labelPadding": 2, "titleFontSize": 13, "titleBaseline": "middle", "titleAlign": "center", "titleX": 117.3, "titleY": 59.1}},
  "xOffset": {"field": "s", "type": "nominal", "scale": {"domain": ["Fresh Tumor", "Cell Line"], "paddingInner": 0.5, "paddingOuter": 0.5}},
  "y": {"field": "v", "aggregate": "mean", "type": "quantitative", "title": "Delta  Priming  (%)"}
 }},
{"data": {"name": "dE"}, "mark": {"type": "tick", "thickness": 2, "size": 5, "color": "#ff1414", "opacity": 1}, "transform": [{"filter": "datum.s === 'Cell Line'"}],
 "encoding": {
  "x": {"field": "c", "type": "ordinal", "sort": ["0.004","0.013","0.026","0.066","0.153","0.353","0.826","1.999","4.531","10.650","25.000"], "scale": {"type": "band", "paddingInner": 0, "paddingOuter": 0}, "axis": {"title": "Navitoclax (µM)", "labelAngle": -45, "labelFontSize": 12, "labelOverlap": false, "domainWidth": 2, "tickWidth": 2, "tickSize": 6, "labelPadding": 2, "titleFontSize": 13, "titleBaseline": "middle", "titleAlign": "center", "titleX": 117.3, "titleY": 59.1}},
  "xOffset": {"field": "s", "type": "nominal", "scale": {"domain": ["Fresh Tumor", "Cell Line"], "paddingInner": 0.5, "paddingOuter": 0.5}},
  "y": {"field": "v", "aggregate": "mean", "type": "quantitative", "title": "Delta  Priming  (%)"}
 }}
]
}
],
"spacing": 0, "bounds": "flush",
"resolve": {"scale": {"color": "independent", "shape": "independent", "xOffset": "independent"}, "legend": {"color": "independent", "shape": "independent"}}
}
],
"spacing": 0, "bounds": "flush",
"resolve": {"scale": {"color": "independent", "shape": "independent", "xOffset": "independent"}, "legend": {"color": "independent", "shape": "independent"}}
},
{"width": 1, "height": 260, "data": {"values": [{}]}, "mark": {"type": "point", "opacity": 0, "size": 1}, "encoding": {}},
{
"hconcat": [
{"width": 44.7, "height": 1, "data": {"values": [{}]}, "mark": {"type": "point", "opacity": 0, "size": 1}, "encoding": {},
 "title": {"text": "F", "anchor": "start", "frame": "group", "dx": -24, "dy": 18, "offset": 0, "baseline": "alphabetic", "font": "Lato", "fontSize": 25, "fontWeight": "normal"}},
{
"width": 275, "height": 276,
"title": {"text": "COCA74P", "anchor": "middle", "frame": "group", "dx": 38, "dy": 38, "offset": 0, "baseline": "alphabetic", "font": "Liberation Sans", "fontSize": 28, "fontWeight": "bold"},
"encoding": {
"x": {"field": "x", "type": "quantitative", "scale": {"domain": [-20, 100], "nice": false, "zero": false},
"axis": {"title": ["Day 1  Delta  Priming", "(AUC)"], "values": [-20, 20, 40, 60, 80, 100], "offset": -46, "domainWidth": 3, "tickWidth": 3, "tickSize": 9, "labelFontSize": 19, "labelPadding": 10, "labelFlush": false, "titleFontSize": 22, "titleLineHeight": 26.7, "titleBaseline": "middle", "titleAlign": "center", "titleX": 136.3, "titleY": 66.3}},
"y": {"field": "y", "type": "quantitative", "scale": {"domain": [-20, 100], "nice": false, "zero": false},
"axis": {"title": ["Day 8  Delta Priming", "(AUC)"], "values": [-20, 20, 40, 60, 80, 100], "offset": -45.8, "domainWidth": 3, "tickWidth": 3, "tickSize": 7, "labelFontSize": 19, "labelPadding": 2, "labelFlush": false, "titleFontSize": 22, "titleLineHeight": 28.3, "titleAngle": 270, "titleBaseline": "middle", "titleAlign": "center", "titleX": -96.4, "titleY": 138}}
},
"layer": [
{"data": {"name": "dF"}, "mark": {"type": "circle", "size": 80, "opacity": 1},
 "encoding": {"color": {"field": "g", "type": "nominal", "scale": {"domain": ["Other Compounds", "BH3 Mimetics", "MEK inhibitors", "HDAC inhibitor"], "range": ["#000000", "#22cc22", "#f5a04c", "#1010ff"]}, "legend": null}}},
{"data": {"name": "lF"}, "mark": {"type": "text", "align": "left", "baseline": "middle", "font": "Liberation Sans", "fontSize": 15, "color": "#000000"}, "encoding": {"text": {"field": "t"}}}
]
},
{"width": 148.3, "height": 1, "data": {"values": [{}]}, "mark": {"type": "point", "opacity": 0, "size": 1}, "encoding": {},
 "title": {"text": "G", "anchor": "start", "frame": "group", "dx": 86.3, "dy": 27, "offset": 0, "baseline": "alphabetic", "font": "Lato", "fontSize": 25, "fontWeight": "normal"}},
{
"width": 266, "height": 271.7,
"title": {"text": "COCA61", "anchor": "middle", "frame": "group", "dx": 41, "dy": 47, "offset": 0, "baseline": "alphabetic", "font": "Liberation Sans", "fontSize": 28, "fontWeight": "bold"},
"encoding": {
"x": {"field": "x", "type": "quantitative", "scale": {"domain": [-20, 100], "nice": false, "zero": false},
"axis": {"title": ["Day1 Delta  Priming", "(AUC)"], "values": [-20, 20, 40, 60, 80, 100], "offset": -45.3, "domainWidth": 3, "tickWidth": 3, "tickSize": 9, "labelFontSize": 19, "labelPadding": 10, "labelFlush": false, "titleFontSize": 22, "titleLineHeight": 26.7, "titleBaseline": "middle", "titleAlign": "center", "titleX": 133.3, "titleY": 62.9}},
"y": {"field": "y", "type": "quantitative", "scale": {"domain": [-20, 100], "nice": false, "zero": false},
"axis": {"title": ["Day 8 Delta  Priming", "(AUC)"], "values": [-20, 20, 40, 60, 80, 100], "offset": -44.3, "domainWidth": 3, "tickWidth": 3, "tickSize": 7, "labelFontSize": 19, "labelPadding": 2, "labelFlush": false, "titleFontSize": 22, "titleLineHeight": 28.3, "titleAngle": 270, "titleBaseline": "middle", "titleAlign": "center", "titleX": -91.3, "titleY": 136.5}}
},
"layer": [
{"data": {"name": "dG"}, "mark": {"type": "circle", "size": 80, "opacity": 1},
 "encoding": {"color": {"field": "g", "type": "nominal", "scale": {"domain": ["Other Compounds", "BH3 Mimetics", "MEK inhibitors", "HDAC inhibitor"], "range": ["#000000", "#22c822", "#ff8a20", "#1010ff"]},
  "legend": {"orient": "none", "legendX": 306, "legendY": 39, "title": null, "strokeColor": "#000000", "padding": 12, "labelFont": "Liberation Sans", "labelFontSize": 22, "labelFontWeight": "normal", "labelLimit": 0, "symbolSize": 110, "symbolType": "circle", "labelOffset": 18, "rowPadding": 14, "symbolStrokeWidth": 0}}}},
{"data": {"name": "lG"}, "mark": {"type": "text", "align": "left", "baseline": "middle", "font": "Liberation Sans", "fontSize": 15, "color": "#000000"}, "encoding": {"text": {"field": "t"}}}
]
}
],
"spacing": 0, "bounds": "flush",
"resolve": {"scale": {"color": "independent", "shape": "independent"}, "legend": {"color": "independent", "shape": "independent"}}
}
],
"spacing": 0, "bounds": "flush",
"resolve": {"scale": {"color": "independent", "shape": "independent", "xOffset": "independent"}, "legend": {"color": "independent", "shape": "independent"}},
"config": {
"view": {"stroke": null},
"axis": {"grid": false, "domainColor": "#000000", "tickColor": "#000000", "labelColor": "#000000", "titleColor": "#000000", "labelFont": "Liberation Sans", "titleFont": "Liberation Sans", "labelFontWeight": "bold", "titleFontWeight": "bold"},
"legend": {"labelColor": "#000000"},
"title": {"color": "#000000"}
}
}
